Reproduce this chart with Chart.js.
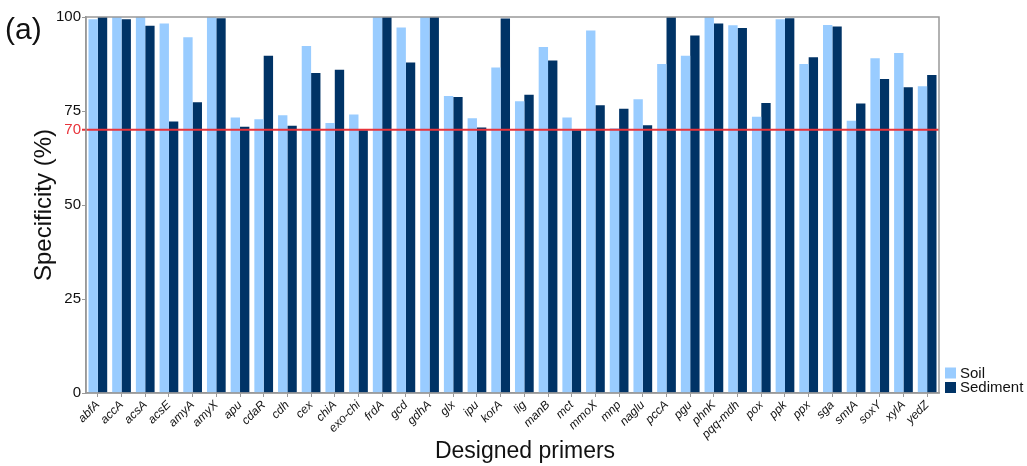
<!DOCTYPE html>
<html>
<head>
<meta charset="utf-8">
<script src="https://cdn.jsdelivr.net/npm/chart.js@4.4.1/dist/chart.umd.min.js"></script>
<style>
  html, body { margin: 0; padding: 0; background: #fff; }
  #wrap { width: 1027px; height: 466px; position: relative; }
</style>
</head>
<body>
<div id="wrap"><canvas id="chart" width="1027" height="466"></canvas></div>
<script>
// Primer specificity (%) against soil and sediment metagenomes
const categories = ['abfA','accA','acsA','acsE','amyA','amyX','apu','cdaR','cdh','cex','chiA','exo-chi',
  'frdA','gcd','gdhA','glx','ipu','korA','lig','manB','mct','mmoX','mnp','naglu',
  'pccA','pgu','phnK','pqq-mdh','pox','ppk','ppx','sga','smtA','soxY','xylA','yedZ'];
const soil = [99.4,100,100,98.3,94.6,100,73.3,72.8,73.9,92.3,71.8,74.1,
  100,97.2,100,79.0,73.1,86.6,77.6,92.0,73.3,96.4,70.4,78.1,
  87.5,89.7,100,97.8,73.5,99.4,87.5,97.9,72.4,89.0,90.4,81.6];
const sediment = [100,99.4,97.7,72.2,77.3,99.7,70.8,89.7,71.1,85.1,86.0,69.9,
  100,87.9,100,78.7,70.6,99.6,79.3,88.4,69.9,76.5,75.6,71.2,
  100,95.1,98.3,97.1,77.1,99.7,89.3,97.5,77.0,83.5,81.3,84.6];
const yTicks = [0, 25, 50, 70, 75, 100];
const threshold = 70;

const FONT = "'Liberation Sans', Arial, Helvetica, sans-serif";
const RED = '#e8333a';
const FRAME = '#999999';
const TEXT = '#111111';

const decor = {
  id: 'decor',
  afterDatasetsDraw(chart) {
    const { ctx, chartArea: a, scales: { y } } = chart;
    ctx.save();
    // threshold line
    const ty = y.getPixelForValue(threshold);
    ctx.strokeStyle = RED;
    ctx.lineWidth = 2;
    ctx.beginPath();
    ctx.moveTo(a.left - 4, ty);
    ctx.lineTo(a.right, ty);
    ctx.stroke();
    // plot frame
    ctx.strokeStyle = FRAME;
    ctx.lineWidth = 1.5;
    ctx.strokeRect(a.left, a.top, a.right - a.left, a.bottom - a.top);
    ctx.restore();
  },
  afterDraw(chart) {
    const { ctx, chartArea: a } = chart;
    ctx.save();
    ctx.fillStyle = TEXT;
    // panel letter
    ctx.font = '30px ' + FONT;
    ctx.textBaseline = 'middle';
    ctx.textAlign = 'left';
    ctx.fillText('(a)', 5, 31);
    // x axis caption
    ctx.font = '23px ' + FONT;
    ctx.textAlign = 'center';
    ctx.fillText('Designed primers', 525, 452);
    // legend
    ctx.font = '15px ' + FONT;
    ctx.textAlign = 'left';
    chart.data.datasets.forEach((ds, i) => {
      const cy = 373 + i * 14.5;
      ctx.fillStyle = ds.backgroundColor;
      ctx.fillRect(a.right + 6, cy - 5.5, 11, 11);
      ctx.fillStyle = TEXT;
      ctx.fillText(ds.label, a.right + 21, cy + 0.5);
    });
    ctx.restore();
  }
};

new Chart(document.getElementById('chart'), {
  type: 'bar',
  data: {
    labels: categories,
    datasets: [
      { label: 'Soil', data: soil, backgroundColor: '#99ccff', borderWidth: 0 },
      { label: 'Sediment', data: sediment, backgroundColor: '#003366', borderWidth: 0 }
    ]
  },
  options: {
    responsive: false,
    animation: false,
    devicePixelRatio: 1,
    layout: { padding: { left: 0, top: 17, right: 88, bottom: 0 } },
    datasets: { bar: { categoryPercentage: 0.79, barPercentage: 1.0 } },
    plugins: {
      legend: { display: false },
      tooltip: { enabled: false },
      title: { display: false }
    },
    scales: {
      x: {
        offset: true,
        grid: { display: true, drawOnChartArea: false, drawTicks: true, tickLength: 4, offset: false, color: FRAME },
        border: { color: FRAME, width: 1.5 },
        ticks: {
          font: { family: FONT, size: 12, style: 'italic' },
          color: TEXT, minRotation: 45, maxRotation: 45, autoSkip: false, padding: 1
        },
        afterFit(s) { s.height = 73; }
      },
      y: {
        min: 0, max: 100,
        afterBuildTicks(s) { s.ticks = yTicks.map(v => ({ value: v })); },
        grid: {
          drawOnChartArea: false, drawTicks: true, tickLength: 4,
          color: c => (c.tick && c.tick.value === threshold) ? RED : FRAME
        },
        border: { color: FRAME, width: 1.5 },
        ticks: {
          autoSkip: false,
          font: { family: FONT, size: 15 },
          color: c => (c.tick && c.tick.value === threshold) ? RED : TEXT,
          padding: 1
        },
        title: {
          display: true, text: 'Specificity (%)', color: TEXT,
          font: { family: FONT, size: 24 }, padding: { top: 30, bottom: 0 }
        },
        afterFit(s) { s.width = 86; }
      }
    }
  },
  plugins: [decor]
});
</script>
</body>
</html>
